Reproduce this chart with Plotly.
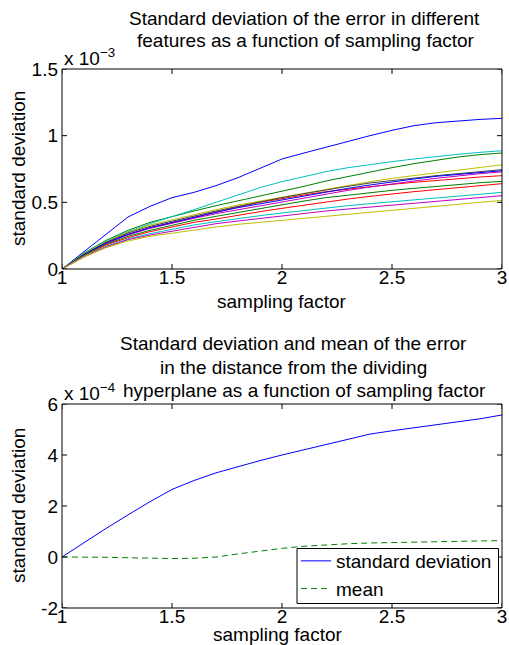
import plotly.graph_objects as go

W, H = 509, 645

# ---------------- data ----------------
sampling_factor = [1.0, 1.1, 1.2, 1.3, 1.4, 1.5, 1.6, 1.7, 1.8, 1.9, 2.0,
                   2.1, 2.2, 2.3, 2.4, 2.5, 2.6, 2.7, 2.8, 2.9, 3.0]

# top chart: std of error per feature (units of 1e-3)
feat_b1 = [0, 0.13, 0.26, 0.39, 0.47, 0.535, 0.575, 0.625, 0.685, 0.755, 0.825,
           0.87, 0.915, 0.955, 1.0, 1.04, 1.075, 1.097, 1.11, 1.122, 1.13]
feat_g1 = [0, 0.12, 0.215, 0.29, 0.35, 0.395, 0.435, 0.475, 0.51, 0.545, 0.58,
           0.62, 0.66, 0.695, 0.73, 0.76, 0.79, 0.815, 0.84, 0.858, 0.87]
feat_r1 = [0, 0.11, 0.195, 0.26, 0.31, 0.35, 0.39, 0.43, 0.465, 0.50, 0.53,
           0.555, 0.58, 0.60, 0.62, 0.635, 0.65, 0.665, 0.68, 0.69, 0.70]
feat_c1 = [0, 0.12, 0.21, 0.28, 0.34, 0.39, 0.445, 0.50, 0.555, 0.61, 0.655,
           0.695, 0.73, 0.76, 0.785, 0.805, 0.825, 0.845, 0.86, 0.875, 0.887]
feat_m1 = [0, 0.105, 0.19, 0.255, 0.305, 0.345, 0.38, 0.415, 0.445, 0.475, 0.505,
           0.535, 0.565, 0.59, 0.615, 0.64, 0.66, 0.68, 0.70, 0.715, 0.728]
feat_y1 = [0, 0.115, 0.205, 0.275, 0.33, 0.37, 0.41, 0.445, 0.48, 0.51, 0.54,
           0.57, 0.60, 0.63, 0.655, 0.68, 0.70, 0.72, 0.745, 0.765, 0.782]
feat_k1 = [0, 0.11, 0.20, 0.27, 0.32, 0.36, 0.40, 0.435, 0.47, 0.505, 0.535,
           0.565, 0.595, 0.62, 0.645, 0.665, 0.685, 0.70, 0.715, 0.73, 0.745]
feat_b2 = [0, 0.11, 0.195, 0.26, 0.31, 0.35, 0.39, 0.425, 0.46, 0.49, 0.52,
           0.55, 0.58, 0.605, 0.63, 0.655, 0.675, 0.695, 0.71, 0.725, 0.737]
feat_g2 = [0, 0.105, 0.185, 0.245, 0.29, 0.33, 0.365, 0.395, 0.425, 0.455, 0.485,
           0.51, 0.535, 0.555, 0.575, 0.59, 0.605, 0.62, 0.635, 0.647, 0.657]
feat_r2 = [0, 0.10, 0.18, 0.235, 0.28, 0.315, 0.35, 0.375, 0.405, 0.43, 0.455,
           0.48, 0.505, 0.525, 0.545, 0.565, 0.58, 0.595, 0.61, 0.625, 0.64]
feat_c2 = [0, 0.095, 0.17, 0.225, 0.265, 0.30, 0.33, 0.355, 0.38, 0.40, 0.42,
           0.44, 0.46, 0.475, 0.49, 0.505, 0.52, 0.535, 0.55, 0.563, 0.575]
feat_m2 = [0, 0.09, 0.165, 0.22, 0.255, 0.285, 0.315, 0.34, 0.36, 0.38, 0.40,
           0.42, 0.435, 0.45, 0.465, 0.48, 0.495, 0.51, 0.525, 0.538, 0.55]
feat_y2 = [0, 0.09, 0.16, 0.21, 0.245, 0.27, 0.295, 0.315, 0.335, 0.35, 0.365,
           0.38, 0.395, 0.41, 0.425, 0.44, 0.455, 0.47, 0.485, 0.50, 0.515]

feature_series = [feat_b1, feat_g1, feat_r1, feat_c1, feat_m1, feat_y1, feat_k1,
                  feat_b2, feat_g2, feat_r2, feat_c2, feat_m2, feat_y2]
matlab_colors = ["#0000FF", "#008000", "#FF0000", "#00BFBF", "#BF00BF", "#BFBF00", "#404040"]

# bottom chart (units of 1e-4)
dist_std = [0, 0.57, 1.12, 1.65, 2.17, 2.65, 3.0, 3.3, 3.55, 3.78, 4.0,
            4.2, 4.4, 4.6, 4.82, 4.95, 5.07, 5.18, 5.28, 5.42, 5.57]
dist_mean = [0, 0.0, -0.01, -0.03, -0.05, -0.06, -0.05, 0.0, 0.12, 0.24, 0.34,
             0.42, 0.48, 0.52, 0.55, 0.57, 0.58, 0.60, 0.61, 0.63, 0.64]

x_ticks = [1, 1.5, 2, 2.5, 3]
x_ticktext = ["1", "1.5", "2", "2.5", "3"]
top_y_ticks = [0, 0.5, 1, 1.5]
top_y_ticktext = ["0", "0.5", "1", "1.5"]
bot_y_ticks = [-2, 0, 2, 4, 6]
bot_y_ticktext = ["-2", "0", "2", "4", "6"]

FONT = "Liberation Sans, Arial, sans-serif"
FS = 19

# plot-area geometry (pixels in the 509x645 figure)
L, R, T, B = 62, 502, 69, 608
PW, PH = R - L, B - T
TOP_AX = (69, 269)      # top subplot pixel extent (y)
BOT_AX = (404, 608)     # bottom subplot pixel extent (y)

fig = go.Figure()

for i, s in enumerate(feature_series):
    fig.add_trace(go.Scatter(x=sampling_factor, y=s, mode="lines",
                             line=dict(color=matlab_colors[i % 7], width=1),
                             showlegend=False, xaxis="x", yaxis="y"))

fig.add_trace(go.Scatter(x=sampling_factor, y=dist_std, mode="lines",
                         line=dict(color="#0000FF", width=1),
                         name="standard deviation", xaxis="x2", yaxis="y2"))
fig.add_trace(go.Scatter(x=sampling_factor, y=dist_mean, mode="lines",
                         line=dict(color="#008000", width=1, dash="6px,4px"),
                         name="mean", xaxis="x2", yaxis="y2"))

def px(xp):
    return (xp - L) / PW

def py(yp):
    return (B - yp) / PH

axis_common = dict(showline=False, ticks="", showgrid=False, zeroline=False,
                   automargin=False, ticklabeloverflow="allow",
                   tickfont=dict(family=FONT, size=FS, color="black"))

fig.update_layout(
    template="none",
    width=W, height=H,
    margin=dict(l=L, r=W - R, t=T, b=H - B, autoexpand=False),
    paper_bgcolor="white", plot_bgcolor="white",
    font=dict(family=FONT, size=FS, color="black"),
    xaxis=dict(domain=[0, 1], range=[1, 3], tickvals=x_ticks, ticktext=x_ticktext,
               anchor="y", ticklabelstandoff=-5, **axis_common),
    yaxis=dict(domain=[py(TOP_AX[1]), py(TOP_AX[0])], range=[0, 1.5], tickvals=top_y_ticks,
               ticktext=top_y_ticktext, anchor="x", ticklabelstandoff=3, **axis_common),
    xaxis2=dict(domain=[0, 1], range=[1, 3], tickvals=x_ticks, ticktext=x_ticktext,
                anchor="y2", ticklabelstandoff=-5, **axis_common),
    yaxis2=dict(domain=[py(BOT_AX[1]), py(BOT_AX[0])], range=[-2, 6], tickvals=bot_y_ticks,
                ticktext=bot_y_ticktext, anchor="x2", ticklabelstandoff=3, **axis_common),
    showlegend=True,
    legend=dict(x=px(296), y=py(542), xanchor="left", yanchor="top",
                bgcolor="rgba(0,0,0,0)", borderwidth=0,
                font=dict(family=FONT, size=FS, color="black"),
                tracegroupgap=0),
)

TICK = 5  # tick length in pixels
subplots = [("x", "y", x_ticks, top_y_ticks, TOP_AX),
            ("x2", "y2", x_ticks, bot_y_ticks, BOT_AX)]
for xa, ya, xt, yt, (ytop, ybot) in subplots:
    fx = TICK / PW                 # tick length as a fraction of the x domain
    fy = TICK / (ybot - ytop)      # tick length as a fraction of the y domain
    # axes box
    fig.add_shape(type="rect", xref=xa + " domain", yref=ya + " domain",
                  x0=0, x1=1, y0=0, y1=1,
                  line=dict(color="black", width=1), fillcolor="rgba(0,0,0,0)",
                  layer="above")
    # inside ticks on bottom/top
    for v in xt:
        for a, b in ((0, fy), (1, 1 - fy)):
            fig.add_shape(type="line", xref=xa, yref=ya + " domain",
                          x0=v, x1=v, y0=a, y1=b,
                          line=dict(color="black", width=1), layer="above")
    # inside ticks on left/right
    for v in yt:
        for a, b in ((0, fx), (1, 1 - fx)):
            fig.add_shape(type="line", xref=xa + " domain", yref=ya,
                          y0=v, y1=v, x0=a, x1=b,
                          line=dict(color="black", width=1), layer="above")

# legend box (white background with black border, under the legend entries)
fig.add_shape(type="rect", xref="paper", yref="paper",
              x0=px(297), x1=px(498.5), y0=py(603.5), y1=py(548.5),
              line=dict(color="black", width=1), fillcolor="white", layer="above")

def ann(text, x, y, xanchor="center", yanchor="middle", textangle=0):
    fig.add_annotation(text=text, x=px(x), y=py(y), xref="paper", yref="paper",
                       xanchor=xanchor, yanchor=yanchor, showarrow=False,
                       textangle=textangle,
                       font=dict(family=FONT, size=FS, color="black"))

# titles
ann("Standard deviation of the error in different", 304, 19)
ann("features as a function of sampling factor", 306, 40)
ann("Standard deviation and mean of the error", 293, 343)
ann("in the distance from the dividing", 293, 367)
ann("hyperplane as a function of sampling factor", 304, 390)

# axis labels
ann("sampling factor", 282, 301)
ann("sampling factor", 278, 634)
ann("standard deviation", 18, 169, textangle=-90)
ann("standard deviation", 18, 506, textangle=-90)

# exponent labels
ann("x 10<sup>−3</sup>", 62, 57, xanchor="left")
ann("x 10<sup>−4</sup>", 62, 392, xanchor="left")

fig.write_html("out.html",
               config={"displayModeBar": False},
               post_script="document.body.style.margin='0';"
                           "document.body.style.overflow='hidden';")
